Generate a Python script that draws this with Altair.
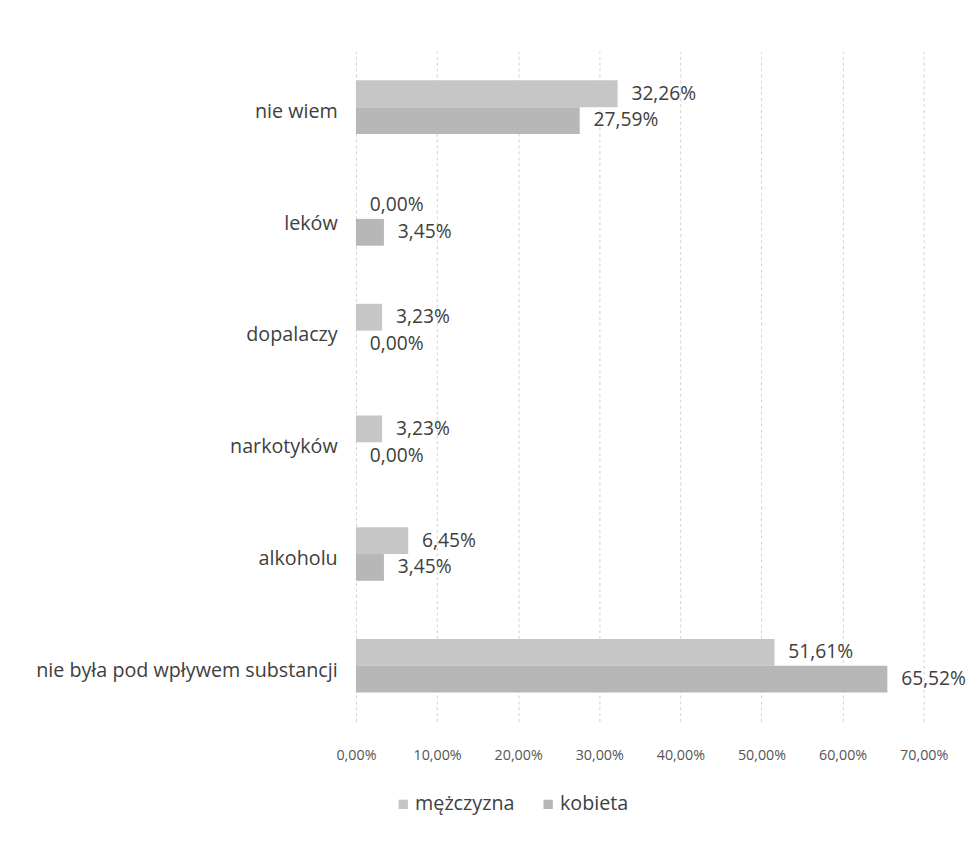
import altair as alt
import pandas as pd

categories = ["nie wiem", "leków", "dopalaczy", "narkotyków", "alkoholu",
              "nie była pod wpływem substancji"]
series = ["mężczyzna", "kobieta"]
men = [32.26, 0.00, 3.23, 3.23, 6.45, 51.61]
women = [27.59, 3.45, 0.00, 0.00, 3.45, 65.52]

rows = []
for c, m, w in zip(categories, men, women):
    for s, v in ((series[0], m), (series[1], w)):
        rows.append({"cat": c, "seria": s, "val": v / 100,
                     "lbl": f"{v:.2f}".replace(".", ",") + "%"})
df = pd.DataFrame(rows)

FONT = "Open Sans"
colors = ["#c6c6c6", "#b7b7b7"]

y_enc = alt.Y("cat:N", sort=categories, title=None,
              scale=alt.Scale(paddingInner=0.52, paddingOuter=0.26),
              axis=alt.Axis(ticks=False, domain=False, grid=False, labelFont=FONT, labelFontSize=20,
                            labelColor="#404040", labelPadding=19, labelLimit=400,
                            minExtent=330, maxExtent=330, labelOffset=5))
yoff = alt.YOffset("seria:N", sort=series, scale=alt.Scale(paddingInner=0, paddingOuter=0))
x_enc = alt.X("val:Q", title=None,
              scale=alt.Scale(domain=[0, 0.7], nice=False),
              axis=alt.Axis(values=[0, 0.1, 0.2, 0.3, 0.4, 0.5, 0.6, 0.7],
                            labelExpr="replace(format(datum.value, '.2%'), '.', ',')",
                            ticks=False, domain=False, labelFont=FONT, labelFontSize=14.5,
                            labelColor="#555555", labelPadding=27, labelFlush=False,
                            grid=True, gridColor="#d0d0d0", gridDash=[3, 3], gridWidth=1))

bars = alt.Chart(df).mark_bar(stroke=None).encode(
    x=x_enc, y=y_enc, yOffset=yoff,
    color=alt.Color("seria:N", sort=series,
                    scale=alt.Scale(domain=series, range=colors),
                    legend=alt.Legend(title=None, orient="none", direction="horizontal",
                                      legendX=38, legendY=754, symbolType="square",
                                      symbolSize=90, symbolStrokeWidth=0,
                                      labelFont=FONT, labelFontSize=20, labelColor="#404040",
                                      columnPadding=24, labelOffset=2, padding=0)),
)

labels = alt.Chart(df).mark_text(align="left", baseline="middle", dx=14,
                                 font=FONT, fontSize=19.5, color="#404040").encode(
    x="val:Q", y=alt.Y("cat:N", sort=categories), yOffset=yoff, text="lbl:N")

chart = (bars + labels).properties(
    width=576, height=680, background="white",
    padding={"left": 23, "top": 38, "right": 5, "bottom": 5},
).configure_view(stroke=None)

chart.save("out.html", embed_options={"renderer": "svg", "actions": False})
